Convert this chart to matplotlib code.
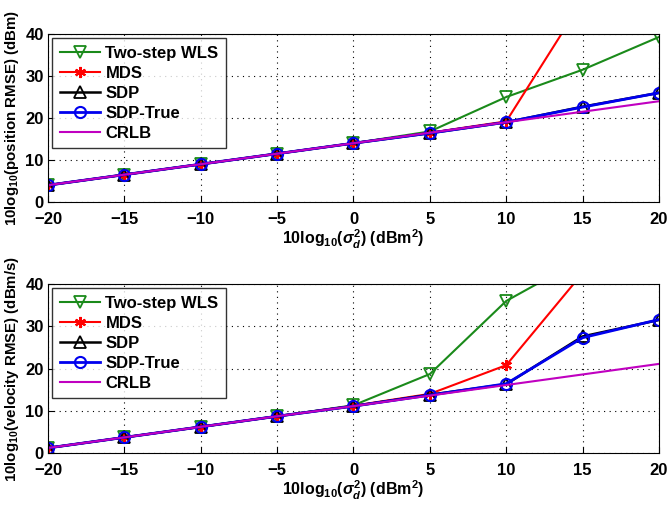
import numpy as np
import matplotlib
matplotlib.use("Agg")
import matplotlib.pyplot as plt

plt.rcParams['font.family'] = ['Liberation Sans', 'DejaVu Sans']
plt.rcParams['font.weight'] = 'bold'
plt.rcParams['mathtext.fontset'] = 'custom'
plt.rcParams['mathtext.rm'] = 'Liberation Sans:bold'
plt.rcParams['mathtext.it'] = 'Liberation Sans:bold:italic'
plt.rcParams['mathtext.bf'] = 'Liberation Sans:bold'

noise_db = [-20, -15, -10, -5, 0, 5, 10, 15, 20]

# position RMSE (dBm)
pos_wls = [4.0, 6.5, 9.0, 11.5, 14.0, 16.8, 25.0, 31.5, 39.3]
pos_mds = [4.0, 6.5, 9.0, 11.5, 14.0, 16.5, 19.2, 48.0, 60.0]
pos_sdp = [4.0, 6.5, 9.0, 11.5, 14.0, 16.4, 19.0, 22.7, 26.0]
pos_sdp_true = [4.0, 6.5, 9.0, 11.5, 14.0, 16.4, 19.0, 22.6, 26.0]
pos_crlb = [4.0, 6.5, 9.0, 11.5, 14.0, 16.5, 19.0, 21.5, 24.0]

# velocity RMSE (dBm/s)
vel_wls = [1.2, 3.7, 6.2, 8.7, 11.3, 18.7, 36.0, 46.0, 55.0]
vel_mds = [1.2, 3.7, 6.2, 8.7, 11.2, 14.0, 20.8, 42.6, 55.0]
vel_sdp = [1.2, 3.7, 6.2, 8.7, 11.1, 13.8, 16.3, 27.6, 31.5]
vel_sdp_true = [1.2, 3.7, 6.2, 8.7, 11.1, 13.7, 16.4, 27.3, 31.6]
vel_crlb = [1.2, 3.7, 6.2, 8.7, 11.1, 13.6, 16.1, 18.6, 21.1]

names = ['Two-step WLS', 'MDS', 'SDP', 'SDP-True', 'CRLB']


def draw_panel(ax, wls, mds, sdp, sdp_true, crlb, ylabel):
    ax.plot(noise_db, wls, color='#1a8a1a', marker='v', mfc='none', ms=8, mew=1.3, lw=1.5, label=names[0])
    ax.plot(noise_db, mds, color='red', marker=(6, 2, 0), ms=8, mew=1.5, lw=1.5, label=names[1])
    ax.plot(noise_db, sdp, color='black', marker='^', mfc='none', ms=8, mew=1.3, lw=1.8, label=names[2])
    ax.plot(noise_db, sdp_true, color='#0000ee', marker='o', mfc='none', ms=8, mew=1.5, lw=2.0, label=names[3])
    ax.plot(noise_db, crlb, color='#c000c0', lw=1.5, label=names[4])
    ax.set_xlim(-20, 20)
    ax.set_ylim(0, 40)
    ax.set_xticks(np.arange(-20, 21, 5))
    ax.set_yticks([0, 10, 20, 30, 40])
    ax.grid(True, color='black', linestyle=(0, (1, 4)), linewidth=0.8)
    ax.tick_params(labelsize=12, direction='in', length=4)
    ax.tick_params(axis='x', pad=7)
    ax.tick_params(axis='y', pad=3)
    for lab in ax.get_xticklabels() + ax.get_yticklabels():
        lab.set_fontweight('bold')
    ax.set_xlabel(r'10log$_{10}$($\sigma_d^2$) (dBm$^2$)', fontsize=11.5, fontweight='bold', labelpad=1)
    ax.set_ylabel(ylabel, fontsize=10.8, fontweight='bold', labelpad=3)
    leg = ax.legend(loc='upper left', fontsize=12, frameon=True, fancybox=False,
                    edgecolor='black', handlelength=2.4, borderpad=0.45,
                    labelspacing=0.3, handletextpad=0.35, borderaxespad=0.25)
    leg.get_frame().set_linewidth(1.0)
    for t in leg.get_texts():
        t.set_fontweight('bold')


fig = plt.figure(figsize=(6.7, 5.12), dpi=100)
ax1 = fig.add_axes([0.0716, 0.6055, 0.912, 0.328])
ax2 = fig.add_axes([0.0716, 0.1152, 0.912, 0.330])

draw_panel(ax1, pos_wls, pos_mds, pos_sdp, pos_sdp_true, pos_crlb,
           r'10log$_{10}$(position RMSE) (dBm)')
draw_panel(ax2, vel_wls, vel_mds, vel_sdp, vel_sdp_true, vel_crlb,
           r'10log$_{10}$(velocity RMSE) (dBm/s)')

fig.savefig('out.png', dpi=100)
